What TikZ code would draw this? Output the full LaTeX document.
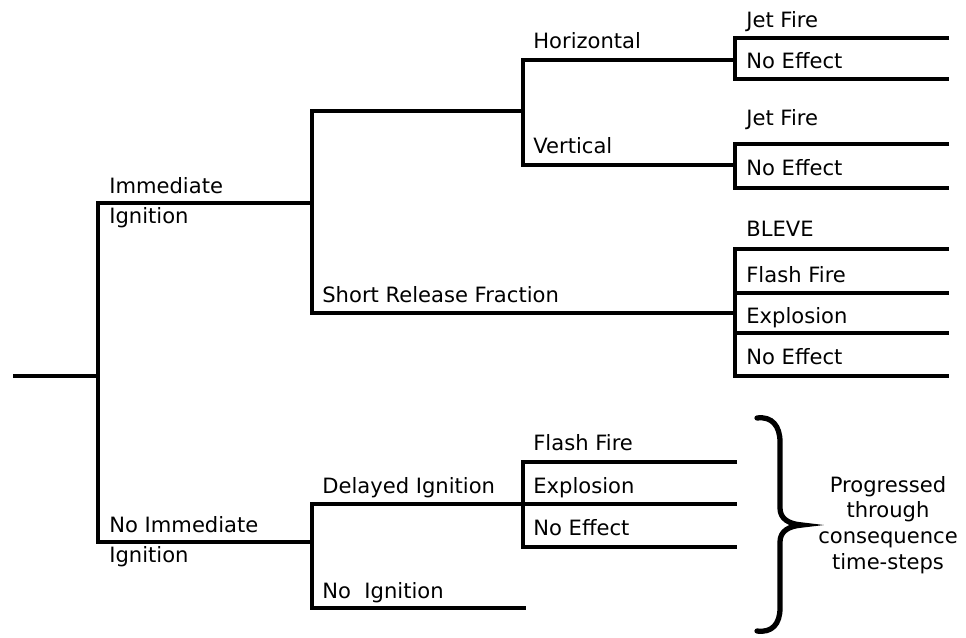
\documentclass[tikz,border=0pt]{standalone}
\usepackage{fontspec}
\setmainfont{DejaVu Sans}
\tikzset{
  branch/.style  ={line width=2.2pt},
  lbl/.style     ={font=\fontsize{12}{17}\selectfont, inner sep=0pt,
                   anchor=base west},
  lbl2/.style    ={font=\fontsize{12}{17}\selectfont, inner sep=0pt,
                   anchor=west, align=left},
  note/.style    ={font=\fontsize{12}{14.7}\selectfont, inner sep=0pt,
                   align=center},
  bigbrace/.style={line width=3pt, line cap=round},
}

\begin{document}
\begin{tikzpicture}[x=0.02cm, y=-0.02cm]
  \useasboundingbox (0,0) rectangle (966,637);
  % ---- first split: ignition or not
  \coordinate (src)  at (13,376);
  \coordinate (ig)   at (98,376);
  \coordinate (imm)  at (312,203);
  \coordinate (nimm) at (312,542);
  \draw[branch] (src) -- (ig);
  \draw[branch] (imm) -- (imm -| ig) -- (nimm -| ig) -- (nimm);
  \node[lbl2] (limm)  at (109,203) {Immediate\\Ignition};
  \node[lbl2] (lnimm) at (109,542) {No Immediate\\Ignition};
  % ---- immediate ignition: direction or short release
  \coordinate (dir) at (523,111);
  \coordinate (srf) at (735,313);
  \draw[branch] (dir) -- (dir -| imm) -- (srf -| imm) -- (srf);
  \node[lbl] (lsrf) at (322,302) {Short Release Fraction};
  \coordinate (hor) at (735,60);
  \coordinate (ver) at (735,165);
  \draw[branch] (hor) -- (hor -| dir) -- (ver -| dir) -- (ver);
  \node[lbl] (lhor) at (533,48)  {Horizontal};
  \node[lbl] (lver) at (533,153) {Vertical};
  % ---- outcomes, horizontal
  \coordinate (h1) at (949,38);
  \coordinate (h2) at (949,79);
  \draw[branch] (h1) -- (h1 -| hor) -- (h2 -| hor) -- (h2);
  \node[lbl] (lh1) at (746,27) {Jet Fire};
  \node[lbl] (lh2) at (746,68) {No Effect};
  % ---- outcomes, vertical
  \coordinate (v1) at (949,144);
  \coordinate (v2) at (949,188);
  \draw[branch] (v1) -- (v1 -| ver) -- (v2 -| ver) -- (v2);
  \node[lbl] (lv1) at (746,125) {Jet Fire};
  \node[lbl] (lv2) at (746,175) {No Effect};
  % ---- outcomes, short release
  \coordinate (s1) at (949,249);
  \coordinate (s2) at (949,293);
  \coordinate (s3) at (949,333);
  \coordinate (s4) at (949,376);
  \draw[branch] (s1) -- (s1 -| srf) -- (s4 -| srf) -- (s4);
  \draw[branch] (s2 -| srf) -- (s2);
  \draw[branch] (s3 -| srf) -- (s3);
  \node[lbl] (ls1) at (746,236) {BLEVE};
  \node[lbl] (ls2) at (746,282) {Flash Fire};
  \node[lbl] (ls3) at (746,323) {Explosion};
  \node[lbl] (ls4) at (746,364) {No Effect};
  % ---- no immediate ignition
  \coordinate (del)  at (523,504);
  \coordinate (noig) at (526,608);
  \draw[branch] (del) -- (del -| nimm) -- (noig -| nimm) -- (noig);
  \node[lbl] (ldel)  at (322,493) {Delayed Ignition};
  \node[lbl] (lnoig) at (322,598) {No\ \ Ignition};
  \coordinate (d1) at (737,462);
  \coordinate (d2) at (737,504);
  \coordinate (d3) at (737,547);
  \draw[branch] (d1) -- (d1 -| del) -- (d3 -| del) -- (d3);
  \draw[branch] (del) -- (d2);
  \node[lbl] (ld1) at (533,450) {Flash Fire};
  \node[lbl] (ld2) at (533,493) {Explosion};
  \node[lbl] (ld3) at (533,535) {No Effect};
  % ---- brace and note
  \coordinate (bt)  at (757,418);
  \coordinate (tip) at (802,525);
  \coordinate (bb)  at (757,631);
  \draw[bigbrace] (bt) .. controls (772,416) and (780,426) .. (780,442)
    -- (780,508) .. controls (780,519) and (789,524) .. (tip)
    .. controls (789,526) and (780,531) .. (780,542)
    -- (780,608) .. controls (780,624) and (772,633) .. (bb);
  \node[note] (prog) at (888,525)
    {Progressed\\through\\consequence\\time-steps};
\end{tikzpicture}
\end{document}
